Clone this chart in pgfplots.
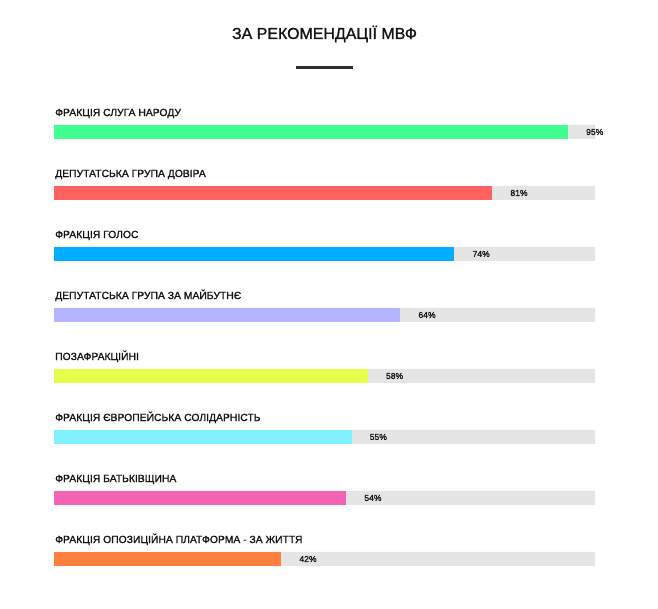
\documentclass[border=0pt]{standalone}
\usepackage{pgfplots}
\pgfplotsset{compat=1.18}
\usepackage{fontspec}
\setmainfont{Liberation Sans}
\newfontfamily\lblfont[FakeBold=1.3]{Liberation Sans}
\newfontfamily\titlefont[FakeBold=1.2]{Liberation Sans}
\definecolor{barbg}{RGB}{229,229,229}
\definecolor{c1}{RGB}{64,255,144}
\definecolor{c2}{RGB}{255,97,97}
\definecolor{c3}{RGB}{0,174,255}
\definecolor{c4}{RGB}{180,180,255}
\definecolor{c5}{RGB}{230,255,76}
\definecolor{c6}{RGB}{128,242,255}
\definecolor{c7}{RGB}{245,99,181}
\definecolor{c8}{RGB}{255,127,63}
\definecolor{txt}{RGB}{20,20,20}
\begin{document}
\begin{tikzpicture}[x=1bp,y=1bp,
  lbl/.style={anchor=base west, inner sep=0pt, xshift=1bp, font=\lblfont\fontsize{10.4}{12}\selectfont, text=txt}]
\fill[white] (0,0) rectangle (658,609);
\node[anchor=base, inner sep=0pt, font=\titlefont\fontsize{16}{18}\selectfont, text=txt] at (324.5,570) {ЗА РЕКОМЕНДАЦІЇ МВФ};
\fill[black!82] (296,540.3) rectangle (353,543);
\begin{axis}[
  at={(54bp,19.5bp)}, anchor=south west,
  width=541bp, height=488bp, scale only axis,
  xmin=0, xmax=100, ymin=-0.5, ymax=7.5,
  hide axis, clip=false,
  xbar, bar shift=0pt, bar width=14bp,
  /pgf/number format/assume math mode=true,
  val/.style={
    nodes near coords={\pgfmathprintnumber{\pgfplotspointmeta}\%},
    every node near coord/.append style={anchor=west, inner sep=0pt, xshift=18bp,
      font=\lblfont\fontsize{8.6}{10}\selectfont, text=txt},
  },
]
\addplot[fill=barbg, draw=none, bar shift=0pt] coordinates {(100,0) (100,1) (100,2) (100,3) (100,4) (100,5) (100,6) (100,7)};
\addplot[fill=c1, draw=none, bar shift=0pt, val] coordinates {(95,7)};
\addplot[fill=c2, draw=none, bar shift=0pt, val] coordinates {(81,6)};
\addplot[fill=c3, draw=none, bar shift=0pt, val] coordinates {(74,5)};
\addplot[fill=c4, draw=none, bar shift=0pt, val] coordinates {(64,4)};
\addplot[fill=c5, draw=none, bar shift=0pt, val] coordinates {(58,3)};
\addplot[fill=c6, draw=none, bar shift=0pt, val] coordinates {(55,2)};
\addplot[fill=c7, draw=none, bar shift=0pt, val] coordinates {(54,1)};
\addplot[fill=c8, draw=none, bar shift=0pt, val] coordinates {(42,0)};
\node[lbl] at (axis cs:0,7.262) {ФРАКЦІЯ СЛУГА НАРОДУ};
\node[lbl] at (axis cs:0,6.262) {ДЕПУТАТСЬКА ГРУПА ДОВІРА};
\node[lbl] at (axis cs:0,5.262) {ФРАКЦІЯ ГОЛОС};
\node[lbl] at (axis cs:0,4.262) {ДЕПУТАТСЬКА ГРУПА ЗА МАЙБУТНЄ};
\node[lbl] at (axis cs:0,3.262) {ПОЗАФРАКЦІЙНІ};
\node[lbl] at (axis cs:0,2.262) {ФРАКЦІЯ ЄВРОПЕЙСЬКА СОЛІДАРНІСТЬ};
\node[lbl] at (axis cs:0,1.262) {ФРАКЦІЯ БАТЬКІВЩИНА};
\node[lbl] at (axis cs:0,0.262) {ФРАКЦІЯ ОПОЗИЦІЙНА ПЛАТФОРМА - ЗА ЖИТТЯ};
\end{axis}
\end{tikzpicture}
\end{document}
